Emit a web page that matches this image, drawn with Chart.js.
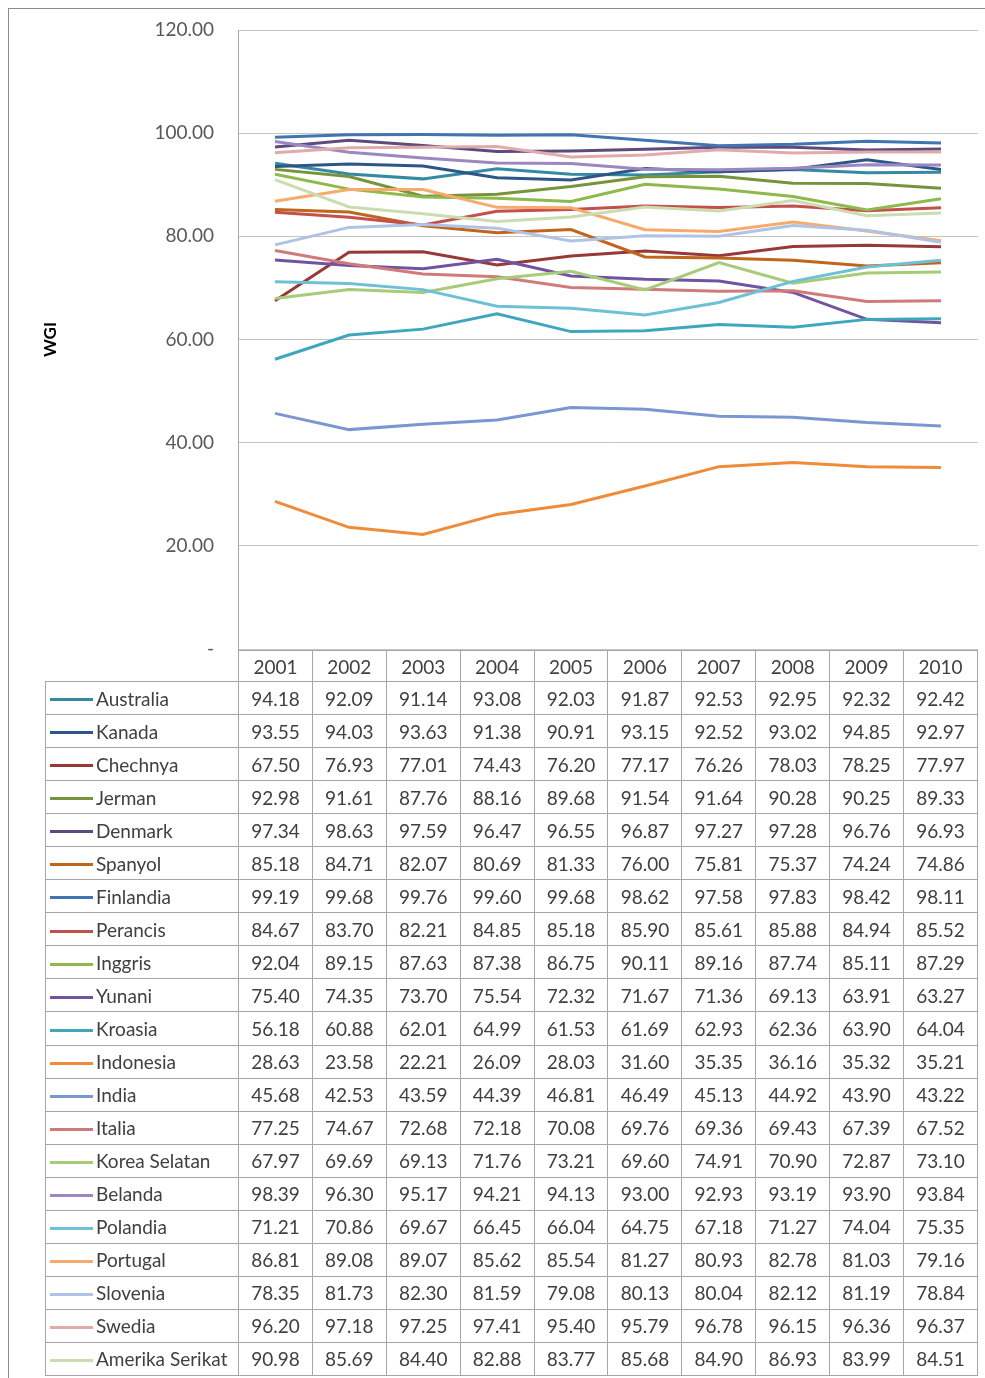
<!DOCTYPE html>
<html>
<head>
<meta charset="utf-8">
<script src="https://cdn.jsdelivr.net/npm/chart.js@4.4.1/dist/chart.umd.min.js"></script>
<style>
  html, body { margin: 0; padding: 0; background: #fff; }
  body { width: 985px; height: 1378px; position: relative; overflow: hidden; font-family: Lato, "Open Sans", sans-serif; }
  #frame { position: absolute; left: 8px; top: 8px; width: 1000px; height: 1400px; border-left: 1px solid #8c8c8c; border-top: 1px solid #8c8c8c; }
  #chartBox { position: absolute; left: 0; top: 0; width: 985px; height: 660px; }
  #tbl { position: absolute; left: 45px; top: 650px; border-collapse: collapse; table-layout: fixed; width: 933px; color: #404040; font-size: 19px; }
  #tbl td { border: 1px solid #a6a6a6; text-align: center; padding: 0; white-space: nowrap; overflow: hidden; }
  #tbl tr.hdr td { height: 30px; }
  #tbl tr.row td { height: 32.05px; }
  #tbl td.blank { border-top: none; border-left: none; }
  #tbl td.leg { text-align: left; padding-left: 4px; }
  .swatch { display: inline-block; width: 43px; height: 3px; vertical-align: middle; margin-right: 3px; position: relative; top: -1px; }
</style>
</head>
<body>
<div id="frame"></div>
<div id="chartBox"><canvas id="c"></canvas></div>
<table id="tbl"></table>
<script>
const years = ['2001','2002','2003','2004','2005','2006','2007','2008','2009','2010'];
const countries = ['Australia','Kanada','Chechnya','Jerman','Denmark','Spanyol','Finlandia','Perancis','Inggris','Yunani','Kroasia','Indonesia','India','Italia','Korea Selatan','Belanda','Polandia','Portugal','Slovenia','Swedia','Amerika Serikat'];
const colors = ['#3689a3','#2d5687','#973a37','#77943d','#5e4a7c','#c0661c','#4274b2','#c2504c','#8fb94c','#7253a0','#3ea6bd','#ef8b39','#7a97d2','#d07b7a','#a8cb79','#9c87c1','#6ec0d6','#f8aa6c','#afc3e4','#e2abab','#cbdcb0'];

const australia = [94.18,92.09,91.14,93.08,92.03,91.87,92.53,92.95,92.32,92.42];
const kanada = [93.55,94.03,93.63,91.38,90.91,93.15,92.52,93.02,94.85,92.97];
const chechnya = [67.50,76.93,77.01,74.43,76.20,77.17,76.26,78.03,78.25,77.97];
const jerman = [92.98,91.61,87.76,88.16,89.68,91.54,91.64,90.28,90.25,89.33];
const denmark = [97.34,98.63,97.59,96.47,96.55,96.87,97.27,97.28,96.76,96.93];
const spanyol = [85.18,84.71,82.07,80.69,81.33,76.00,75.81,75.37,74.24,74.86];
const finlandia = [99.19,99.68,99.76,99.60,99.68,98.62,97.58,97.83,98.42,98.11];
const perancis = [84.67,83.70,82.21,84.85,85.18,85.90,85.61,85.88,84.94,85.52];
const inggris = [92.04,89.15,87.63,87.38,86.75,90.11,89.16,87.74,85.11,87.29];
const yunani = [75.40,74.35,73.70,75.54,72.32,71.67,71.36,69.13,63.91,63.27];
const kroasia = [56.18,60.88,62.01,64.99,61.53,61.69,62.93,62.36,63.90,64.04];
const indonesia = [28.63,23.58,22.21,26.09,28.03,31.60,35.35,36.16,35.32,35.21];
const india = [45.68,42.53,43.59,44.39,46.81,46.49,45.13,44.92,43.90,43.22];
const italia = [77.25,74.67,72.68,72.18,70.08,69.76,69.36,69.43,67.39,67.52];
const koreaSelatan = [67.97,69.69,69.13,71.76,73.21,69.60,74.91,70.90,72.87,73.10];
const belanda = [98.39,96.30,95.17,94.21,94.13,93.00,92.93,93.19,93.90,93.84];
const polandia = [71.21,70.86,69.67,66.45,66.04,64.75,67.18,71.27,74.04,75.35];
const portugal = [86.81,89.08,89.07,85.62,85.54,81.27,80.93,82.78,81.03,79.16];
const slovenia = [78.35,81.73,82.30,81.59,79.08,80.13,80.04,82.12,81.19,78.84];
const swedia = [96.20,97.18,97.25,97.41,95.40,95.79,96.78,96.15,96.36,96.37];
const amerikaSerikat = [90.98,85.69,84.40,82.88,83.77,85.68,84.90,86.93,83.99,84.51];

const series = [australia,kanada,chechnya,jerman,denmark,spanyol,finlandia,perancis,inggris,yunani,kroasia,indonesia,india,italia,koreaSelatan,belanda,polandia,portugal,slovenia,swedia,amerikaSerikat];
const yTicks = [0,20,40,60,80,100,120];

const datasets = countries.map((name, i) => ({
  label: name,
  data: series[i],
  borderColor: colors[i],
  backgroundColor: colors[i],
  borderWidth: 3,
  pointRadius: 0,
  pointHoverRadius: 0,
  tension: 0,
  fill: false,
  order: countries.length - i
}));

new Chart(document.getElementById('c'), {
  type: 'line',
  data: { labels: years, datasets },
  options: {
    responsive: true,
    maintainAspectRatio: false,
    animation: false,
    events: [],
    layout: { padding: { top: 30, right: 7, bottom: 11, left: 0 } },
    plugins: { legend: { display: false }, tooltip: { enabled: false } },
    scales: {
      x: {
        display: false,
        offset: true
      },
      y: {
        min: 0,
        max: 120,
        afterBuildTicks: (s) => { s.ticks = yTicks.map(v => ({ value: v })); },
        afterFit: (s) => { s.width = 238; s.paddingTop = 0; s.paddingBottom = 0; },
        grid: { color: '#c4c4c4', lineWidth: 1, drawTicks: false },
        border: { display: true, color: '#a6a6a6', width: 1 },
        ticks: {
          padding: 24,
          color: '#595959',
          font: { family: 'Lato', size: 19 },
          callback: (v) => v === 0 ? '-' : Number(v).toFixed(2)
        },
        title: {
          display: true,
          text: 'WGI',
          color: '#000',
          font: { family: 'Lato', size: 17, weight: 'bold' },
          padding: { top: 40, bottom: 0 }
        }
      }
    }
  }
});

// data table
const tbl = document.getElementById('tbl');
const colg = document.createElement('colgroup');
const c0 = document.createElement('col'); c0.style.width = '193px'; colg.appendChild(c0);
years.forEach(() => { const c = document.createElement('col'); c.style.width = '73.9px'; colg.appendChild(c); });
tbl.appendChild(colg);
const hdr = document.createElement('tr'); hdr.className = 'hdr';
const blank = document.createElement('td'); blank.className = 'blank'; hdr.appendChild(blank);
years.forEach(y => { const td = document.createElement('td'); td.textContent = y; hdr.appendChild(td); });
tbl.appendChild(hdr);
countries.forEach((name, i) => {
  const tr = document.createElement('tr'); tr.className = 'row';
  const lg = document.createElement('td'); lg.className = 'leg';
  const sw = document.createElement('span'); sw.className = 'swatch'; sw.style.background = colors[i];
  lg.appendChild(sw); lg.appendChild(document.createTextNode(name));
  tr.appendChild(lg);
  series[i].forEach(v => { const td = document.createElement('td'); td.textContent = v.toFixed(2); tr.appendChild(td); });
  tbl.appendChild(tr);
});
</script>
</body>
</html>
